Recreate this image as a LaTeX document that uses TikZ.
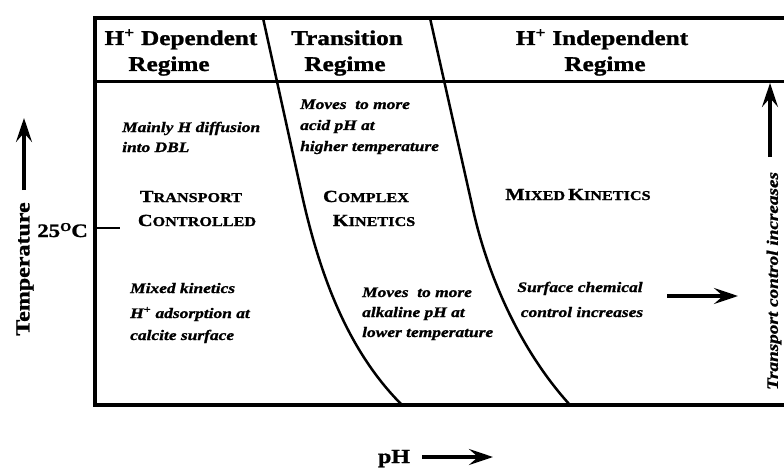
\documentclass[tikz,border=0pt]{standalone}
\usepackage{fontspec}
\setmainfont[FakeStretch=1.2, BoldFeatures={FakeBold=1.2}, BoldItalicFeatures={FakeBold=1.2}]{Liberation Serif}
\usetikzlibrary{arrows.meta}
\newcommand\scfirst[1]{{\fontsize{17}{17}\selectfont #1}}
\newcommand\screst[1]{{\fontsize{13.5}{13.5}\selectfont #1}}
\begin{document}
\begin{tikzpicture}[x=1pt,y=-1pt,
  head/.style={font=\bfseries\fontsize{21}{21}\selectfont, inner sep=0pt, anchor=base},
  note/.style={font=\bfseries\itshape\fontsize{14.5}{14.5}\selectfont, inner sep=0pt, anchor=base west},
  notec/.style={note, anchor=base},
  regime/.style={font=\bfseries, inner sep=0pt, anchor=base},
  axis/.style={font=\bfseries\fontsize{20}{20}\selectfont, inner sep=0pt},
  bigarrow/.style={line width=3.2pt, -{Stealth[length=24pt,width=16pt,inset=9pt]}},
  frame/.style={line width=4pt},
  divider/.style={line width=2.5pt}]
\useasboundingbox (0,0) rectangle (784,468);
% frame
\draw[frame] (784,18.5) -- (95,18.5) -- (95,405) -- (784,405);
\draw[divider] (95,81.5) -- (784,81.5);
% regime boundaries
\draw[divider] (263,18) -- (302,195) .. controls (322,285) and (352,355) .. (402,405);
\draw[divider] (430,18) -- (472,205) .. controls (487,275) and (520,350) .. (570,405);
% headers
\node[head] (h1a) at (181,45) {H\textsuperscript{+} Dependent};
\node[head] (h1b) at (169,71) {Regime};
\node[head] (h2a) at (347,45) {Transition};
\node[head] (h2b) at (345,71) {Regime};
\node[head] (h3a) at (602,45) {H\textsuperscript{+} Independent};
\node[head] (h3b) at (605,71) {Regime};
% left column
\node[note] (t1a) at (122,132) {Mainly H diffusion};
\node[note] (t1b) at (122,152) {into DBL};
\node[regime] (s1a) at (191,202) {\scfirst{T}\screst{RANSPORT}};
\node[regime] (s1b) at (197,226) {\scfirst{C}\screst{ONTROLLED}};
\node[note] (t3a) at (130,293) {Mixed kinetics};
\node[note] (t3b) at (130,318) {H\textsuperscript{+} adsorption at};
\node[note] (t3c) at (130,340) {calcite surface};
% middle column
\node[note] (t2a) at (300,109) {Moves\ \ to more};
\node[note] (t2b) at (300,130) {acid pH at};
\node[note] (t2c) at (300,151) {higher temperature};
\node[regime] (s2a) at (366,202) {\scfirst{C}\screst{OMPLEX}};
\node[regime] (s2b) at (374,226) {\scfirst{K}\screst{INETICS}};
\node[note] (t4a) at (362,297) {Moves\ \ to more};
\node[note] (t4b) at (362,317) {alkaline pH at};
\node[note] (t4c) at (362,337) {lower temperature};
% right column
\node[regime] (s3) at (578,200) {\scfirst{M}\screst{IXED} \scfirst{K}\screst{INETICS}};
\node[notec] (t5a) at (580,292) {Surface chemical};
\node[notec] (t5b) at (582,317) {control increases};
\coordinate (sa) at (667,296);
\coordinate (sb) at (738,296);
\draw[bigarrow] (sa) -- (sb);
% right vertical
\coordinate (ra) at (770,157);
\coordinate (rb) at (770,83);
\draw[bigarrow] (ra) -- (rb);
\node[font=\bfseries\itshape\fontsize{16}{16}\selectfont, rotate=90, inner sep=0pt] (tci) at (774,281) {Transport control increases};
% temperature axis
\node[axis, rotate=90] (temp) at (25,269) {Temperature};
\coordinate (ta) at (24,190);
\coordinate (tb) at (24,118);
\draw[bigarrow] (ta) -- (tb);
\node[axis, anchor=base east, font=\bfseries\fontsize{19}{19}\selectfont] (t25) at (88,237) {25\raisebox{6pt}{\fontsize{12}{12}\selectfont O}C};
\coordinate (k1) at (95,228);
\coordinate (k2) at (120,228);
\draw[line width=1.3pt] (k1) -- (k2);
% pH axis
\node[axis, anchor=base] (ph) at (394,463) {pH};
\coordinate (pa) at (422,457);
\coordinate (pb) at (493,457);
\draw[bigarrow] (pa) -- (pb);
\end{tikzpicture}
\end{document}
